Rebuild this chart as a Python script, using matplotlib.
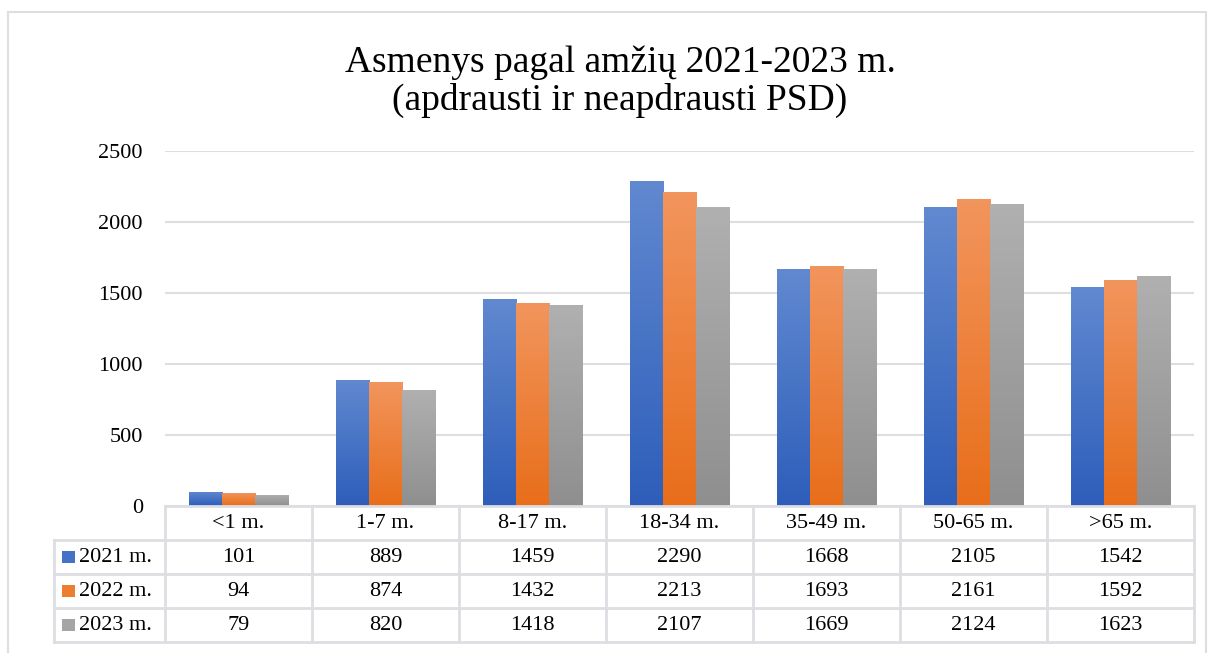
"""
Asmenys pagal amziu 2021-2023 m. - grouped bars with data table below
"""
import numpy as np
import matplotlib
matplotlib.use("Agg")
import matplotlib.pyplot as plt
from matplotlib.colors import LinearSegmentedColormap
from matplotlib.patches import Rectangle

# data
categories = ["<1 m.", "1-7 m.", "8-17 m.", "18-34 m.", "35-49 m.", "50-65 m.", ">65 m."]
series = ["2021 m.", "2022 m.", "2023 m."]
v2021 = [101, 889, 1459, 2290, 1668, 2105, 1542]
v2022 = [94, 874, 1432, 2213, 1693, 2161, 1592]
v2023 = [79, 820, 1418, 2107, 1669, 2124, 1623]
values = [v2021, v2022, v2023]

# gradient colours (top, bottom) and flat legend colour
grad = [("#6189D0", "#2E5EBA"), ("#F2955D", "#E86E1A"), ("#B0B0B0", "#8F8F8F")]
flat = ["#4472C4", "#ED7D31", "#A5A5A5"]
grid_col = "#DCDEE2"

plt.rcParams["font.family"] = ["Liberation Serif", "DejaVu Serif"]

W, H = 1211, 653
fig = plt.figure(figsize=(W / 100, H / 100), dpi=100)


def px(x0, y0, x1, y1):
    # pixel box -> figure fraction rect
    return [x0 / W, 1 - y1 / H, (x1 - x0) / W, (y1 - y0) / H]


# outer chart frame
fig.patches.append(Rectangle((8 / W, -0.01), (1206 - 8) / W, 1 - 12 / H + 0.01,
                             transform=fig.transFigure, fill=False,
                             edgecolor=grid_col, lw=1.5))

fig.text(0.512, 1 - 82 / H, "Asmenys pagal amžių 2021-2023 m.\n(apdrausti ir neapdrausti PSD)",
         ha="center", va="center", fontsize=27, linespacing=1.1)

ax = fig.add_axes(px(165, 151, 1194, 506))
x = np.arange(len(categories))
bw = 0.225
for i, vals in enumerate(values):
    cmap = LinearSegmentedColormap.from_list("g%d" % i, [grad[i][1], grad[i][0]])
    bars = ax.bar(x + (i - 1) * bw, vals, bw, color=flat[i], lw=0)
    for b in bars:
        bx, by = b.get_x(), b.get_y()
        bwid, bh = b.get_width(), b.get_height()
        im = ax.imshow(np.linspace(0, 1, 100).reshape(-1, 1), cmap=cmap, aspect="auto",
                       origin="lower", extent=[bx, bx + bwid, by, by + bh], zorder=3)
        im.set_clip_path(b)
        b.set_zorder(3)

ax.set_xlim(-0.5, len(categories) - 0.5)
ax.set_ylim(0, 2500)
ax.set_yticks(range(0, 2501, 500))
ax.set_xticks([])
ax.tick_params(axis="y", length=0, pad=16, labelsize=16)
ax.grid(axis="y", color=grid_col, lw=1.5, zorder=0)
ax.set_axisbelow(True)
for s in ax.spines.values():
    s.set_visible(False)

# data table
leg_w = (165 - 54) / 147.0
tab = fig.add_axes(px(54, 506, 1194, 642))
tab.set_xlim(-0.5 - leg_w, len(categories) - 0.5)
tab.set_ylim(4, 0)
tab.axis("off")
lk = dict(color=grid_col, lw=2, clip_on=False)
# horizontal lines
tab.plot([-0.5, len(categories) - 0.5], [0, 0], **lk)
for r in range(1, 5):
    tab.plot([-0.5 - leg_w, len(categories) - 0.5], [r, r], **lk)
# vertical lines
for c in range(len(categories) + 1):
    tab.plot([c - 0.5, c - 0.5], [0, 4], **lk)
tab.plot([-0.5 - leg_w, -0.5 - leg_w], [1, 4], **lk)

for j, cat in enumerate(categories):
    tab.text(j, 0.5, cat, ha="center", va="center", fontsize=16)
for i, name in enumerate(series):
    row = i + 1.5
    tab.add_patch(Rectangle((-0.5 - leg_w + 0.055, row - 0.17), 0.085, 0.34,
                            color=flat[i], lw=0))
    tab.text(-0.5 - leg_w + 0.17, row, name, ha="left", va="center", fontsize=16)
    for j, v in enumerate(values[i]):
        tab.text(j, row, str(v), ha="center", va="center", fontsize=16)

fig.savefig("out.png", dpi=100)
